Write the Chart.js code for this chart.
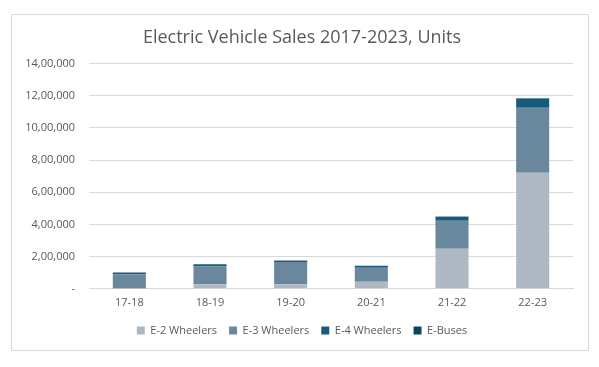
<!DOCTYPE html>
<html>
<head>
<meta charset="utf-8">
<script src="https://cdn.jsdelivr.net/npm/chart.js@4"></script>
<style>
  body { margin: 0; background: #fff; }
  #box {
    position: absolute; left: 11px; top: 14px;
    width: 576px; height: 335px;
    border: 1px solid #d9d9d9; background: #fff;
  }
  canvas { display: block; }
</style>
</head>
<body>
<div id="box"><canvas id="grafico" width="576" height="335"></canvas></div>
<script>
const anos = ["17-18", "18-19", "19-20", "20-21", "21-22", "22-23"];
const e2Wheelers = [2000, 28000, 28000, 44000, 249000, 722000];
const e3Wheelers = [89000, 112000, 139000, 87000, 174000, 404000];
const e4Wheelers = [10000, 12000, 8000, 12000, 25000, 56000];
const eBuses = [1000, 1000, 1000, 1000, 2000, 2000];
const yMax = 1400000;
const yStep = 200000;

// formato indiano: 14,00,000
function formatoIndiano(v){
    if (v === 0) return "-";
    let s = String(v);
    let ultimos = s.slice(-3);
    let resto = s.slice(0, -3);
    if (resto !== "") {
        resto = resto.replace(/\B(?=(\d{2})+(?!\d))/g, ",");
        return resto + "," + ultimos;
    }
    return ultimos;
}

Chart.defaults.font.family = "'Open Sans', 'Noto Sans', sans-serif";
Chart.defaults.color = '#595959';

new Chart(document.getElementById("grafico"), {
    type: "bar",
    data: {
        labels: anos,
        datasets: [
            { label: "E-2 Wheelers", data: e2Wheelers, backgroundColor: "#adb8c3" },
            { label: "E-3 Wheelers", data: e3Wheelers, backgroundColor: "#6a889d" },
            { label: "E-4 Wheelers", data: e4Wheelers, backgroundColor: "#165b7a" },
            { label: "E-Buses", data: eBuses, backgroundColor: "#0e4460" }
        ]
    },
    options: {
        responsive: false,
        animation: false,
        layout: { padding: { left: 4, right: 0, top: 10, bottom: 4 } },
        categoryPercentage: 1,
        barPercentage: 0.41,
        plugins: {
            title: {
                display: true,
                text: "Electric Vehicle Sales 2017-2023, Units",
                color: "#595959",
                font: { size: 18, weight: "normal" },
                padding: { top: 2, bottom: 15 }
            },
            legend: {
                position: "bottom",
                labels: {
                    boxWidth: 8, boxHeight: 8,
                    padding: 12,
                    font: { size: 11 },
                    color: "#595959"
                }
            },
            tooltip: { enabled: false }
        },
        scales: {
            x: {
                stacked: true,
                grid: { display: false },
                border: { color: "#d9d9d9" },
                ticks: { font: { size: 11 }, color: "#595959", padding: -1 },
                afterFit: s => { s.height += 5; }
            },
            y: {
                stacked: true,
                min: 0, max: yMax,
                border: { display: false },
                grid: { color: "#d9d9d9", drawTicks: false },
                ticks: {
                    stepSize: yStep,
                    padding: 14,
                    font: { size: 11 },
                    color: "#595959",
                    callback: v => formatoIndiano(v)
                },
                afterFit: s => { s.width = 73; }
            },
            // eixo vazio so para dar margem a direita
            margem: {
                position: "right",
                grid: { display: false },
                border: { display: false },
                ticks: { display: false },
                afterFit: s => { s.width = 15; }
            }
        }
    }
});
</script>
</body>
</html>
